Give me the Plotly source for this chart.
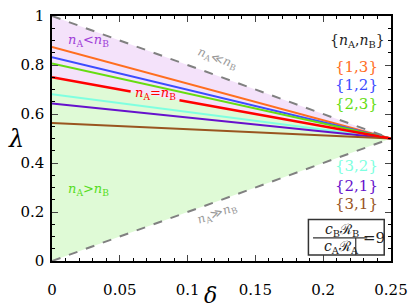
import plotly.graph_objects as go

# data
delta_end = 0.25
lambda_end = 0.5
pairs = ["{1,3}", "{1,2}", "{2,3}", "{3,2}", "{2,1}", "{3,1}"]
lambda0 = [0.874, 0.832, 0.806, 0.681, 0.643, 0.563]
colors = ["#ff6e1f", "#3c4cff", "#66dd11", "#7fffe0", "#6611cc", "#99551f"]
lambda_equal0 = 0.75
upper0 = 1.0
lower0 = 0.0
xticks = [0, 0.05, 0.1, 0.15, 0.2, 0.25]
xticklabels = ["0", "0.05", "0.1", "0.15", "0.2", "0.25"]
yticks = [0, 0.2, 0.4, 0.6, 0.8, 1.0]
yticklabels = ["0", "0.2", "0.4", "0.6", "0.8", "1"]


def lam(l0, d):
    return l0 + (lambda_end - l0) * d / delta_end


SERIF = "DejaVu Serif"
fig = go.Figure()
xs = [0, delta_end]

# fills
fig.add_trace(go.Scatter(x=xs, y=[lam(lower0, d) for d in xs], mode="lines",
                         line=dict(width=0), showlegend=False, hoverinfo="skip"))
fig.add_trace(go.Scatter(x=xs, y=[lam(lambda_equal0, d) for d in xs], mode="lines",
                         line=dict(width=0), fill="tonexty", fillcolor="rgb(223,250,214)",
                         showlegend=False, hoverinfo="skip"))
fig.add_trace(go.Scatter(x=xs, y=[lam(upper0, d) for d in xs], mode="lines",
                         line=dict(width=0), fill="tonexty", fillcolor="rgb(244,226,250)",
                         showlegend=False, hoverinfo="skip"))

# colored lines
for p, l0, c in zip(pairs, lambda0, colors):
    fig.add_trace(go.Scatter(x=xs, y=[lam(l0, d) for d in xs], mode="lines",
                             line=dict(color=c, width=2), showlegend=False))

# red n_A = n_B line with gap for label
gap = [0, 0.058, None, 0.094, delta_end]
fig.add_trace(go.Scatter(x=gap, y=[None if d is None else lam(lambda_equal0, d) for d in gap],
                         mode="lines", line=dict(color="#ff0000", width=2.5),
                         connectgaps=False, showlegend=False))

# dashed bounds
for b in [upper0, lower0]:
    fig.add_trace(go.Scatter(x=xs, y=[lam(b, d) for d in xs], mode="lines",
                             line=dict(color="#808080", width=2, dash="dash"),
                             showlegend=False))

ann = []
def A(x, y, text, color, size=15, angle=0, xref="x", yref="y"):
    ann.append(dict(x=x, y=y, xref=xref, yref=yref, text=text, showarrow=False,
                    font=dict(family=SERIF, size=size, color=color), textangle=angle))

A(0.027, 0.898, "<i>n</i><sub>A</sub><<i>n</i><sub>B</sub>", "#a040d8", 13)
A(0.0765, 0.683, "<i>n</i><sub>A</sub>=<i>n</i><sub>B</sub>", "#ff0000", 13)
A(0.027, 0.293, "<i>n</i><sub>A</sub>><i>n</i><sub>B</sub>", "#55dd22", 13)
A(0.122, 0.826, "<i>n</i><sub>A</sub>≪<i>n</i><sub>B</sub>", "#999999", 12, 20)
A(0.122, 0.19, "<i>n</i><sub>A</sub>≫<i>n</i><sub>B</sub>", "#999999", 12, -20)
A(0.2256, 0.898, "{<i>n</i><sub>A</sub>,<i>n</i><sub>B</sub>}", "#222222", 14)
ys = [0.791, 0.720, 0.642, 0.386, 0.307, 0.232]
for p, c, y in zip(pairs, colors, ys):
    A(0.2245, y, p, c, 15)

# fraction box
A(0.2135, 0.128, "<i>c</i><sub>B</sub>ℛ<sub>B</sub>", "#222222", 14)
A(0.2135, 0.058, "<i>c</i><sub>A</sub>ℛ<sub>A</sub>", "#222222", 14)
A(0.2375, 0.094, "=9", "#222222", 15)

# axis titles
A(-0.135, 0.5, "<i>λ</i>", "black", 24, 0, "paper", "paper")
A(0.468, -0.2, "<i>δ</i>", "black", 22, 0, "paper", "paper")

shapes = [
    dict(type="rect", xref="x", yref="y", x0=0.1891, x1=0.2450, y0=0.024, y1=0.169,
         line=dict(color="#333333", width=1.5), fillcolor="white", layer="above"),
    dict(type="line", xref="x", yref="y", x0=0.1925, x1=0.2325, y0=0.094, y1=0.094,
         line=dict(color="#333333", width=1.2)),
    dict(type="line", xref="x", yref="y", x0=0.2240, x1=0.2240, y0=0.024, y1=0.094,
         line=dict(color="#333333", width=1.2)),
]

fig.update_layout(
    width=415, height=308,
    margin=dict(l=52, r=13, t=7, b=47),
    plot_bgcolor="white", paper_bgcolor="white",
    annotations=ann, shapes=shapes,
    font=dict(family=SERIF, size=14, color="black"),
)
fig.update_xaxes(range=[-1e-6, 0.25 + 1e-6], tickvals=xticks, ticktext=xticklabels,
                 ticks="inside", ticklen=6, tickwidth=1, mirror="allticks",
                 showline=True, linecolor="black", linewidth=1.5, showgrid=False,
                 zeroline=False, tickfont=dict(family=SERIF, size=15),
                 ticklabeloverflow="allow", ticklabelstandoff=14,
                 minor=dict(dtick=0.01, ticks="inside", ticklen=3, tickcolor="black"))
fig.update_yaxes(range=[-1e-6, 1 + 1e-6], tickvals=yticks, ticktext=yticklabels,
                 ticks="inside", ticklen=6, tickwidth=1, mirror="allticks",
                 showline=True, linecolor="black", linewidth=1.5, showgrid=False,
                 zeroline=False, tickfont=dict(family=SERIF, size=15),
                 ticklabeloverflow="allow", ticklabelstandoff=3,
                 minor=dict(dtick=0.05, ticks="inside", ticklen=3, tickcolor="black"))

fig.write_html("out.html", config={"displayModeBar": False},
               post_script="document.body.style.margin='0';document.body.style.overflow='hidden';")
